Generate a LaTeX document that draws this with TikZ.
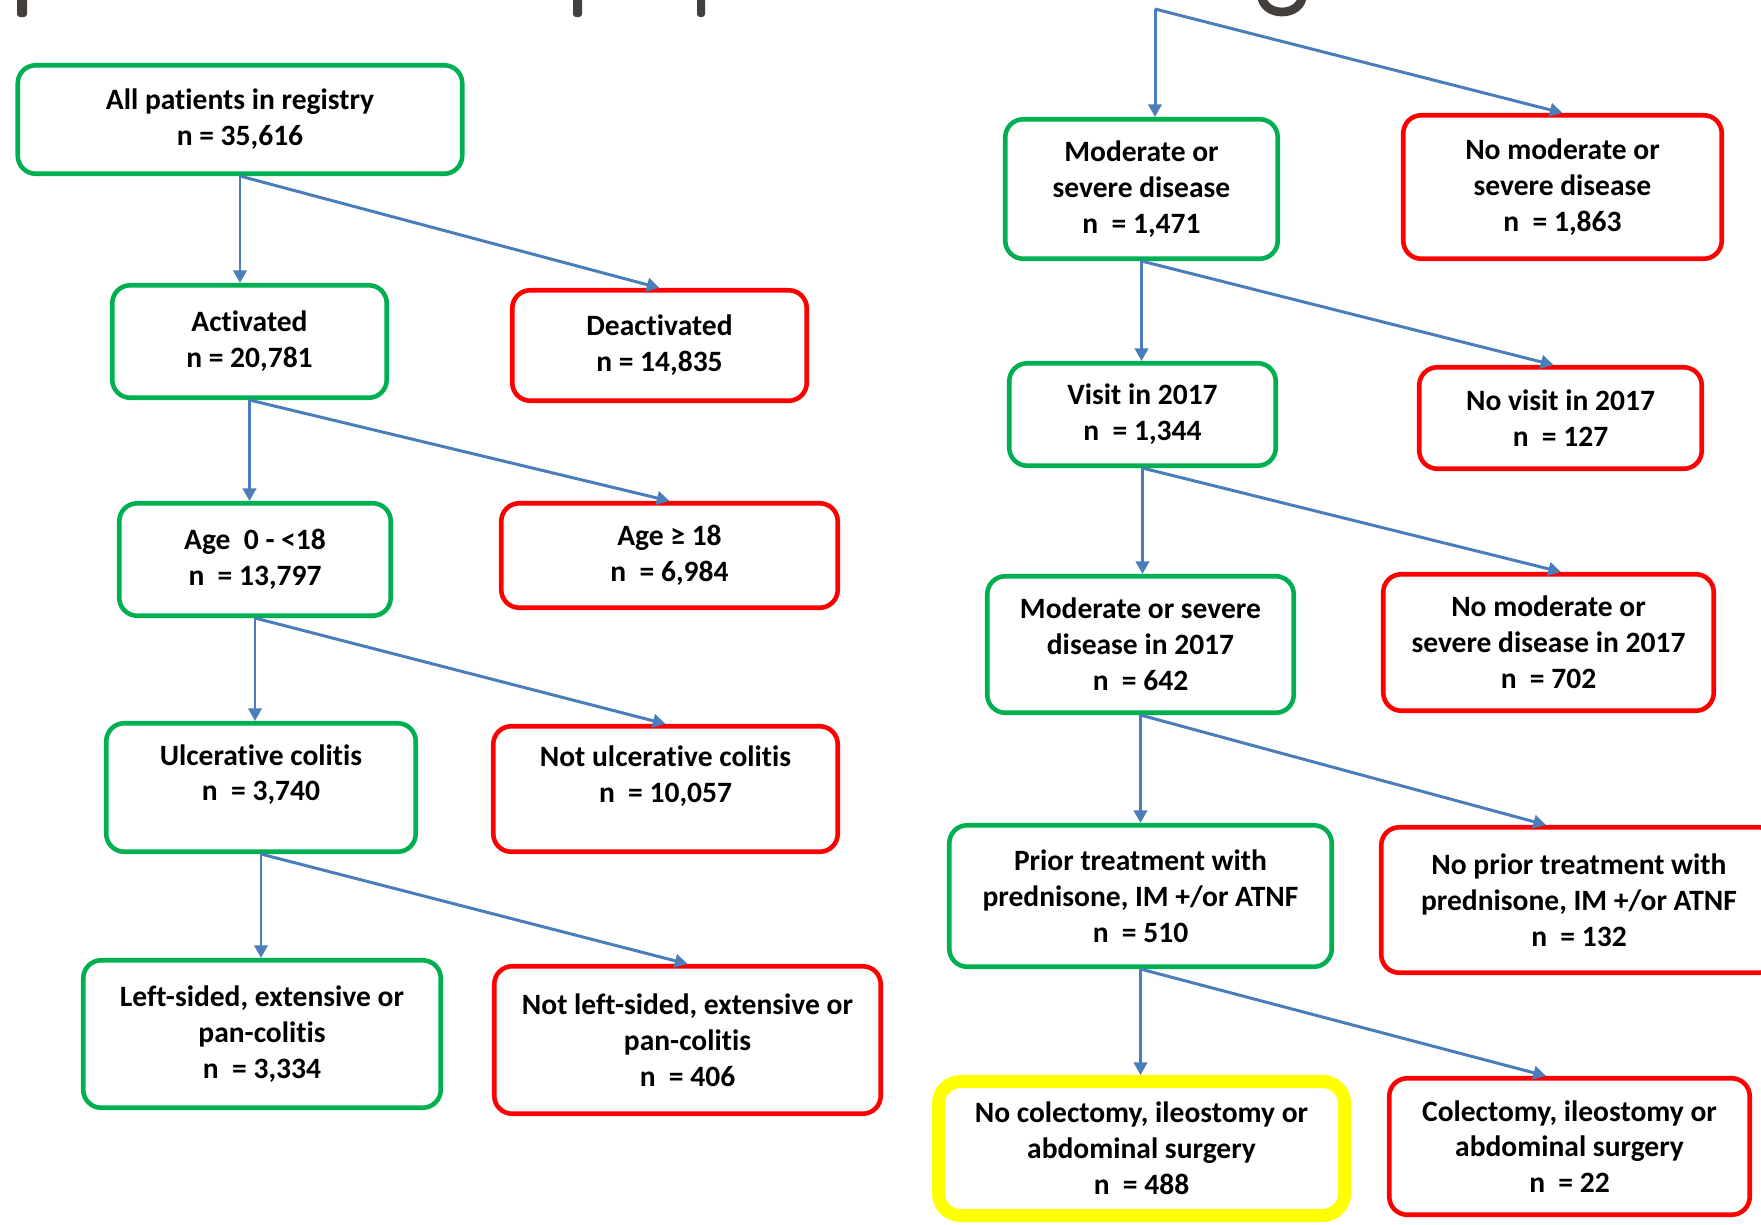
\documentclass[tikz,border=0pt]{standalone}
\usepackage{fontspec}
\setmainfont{Carlito}[Ligatures=NoCommon]
\usetikzlibrary{arrows.meta}
\definecolor{okgreen}{HTML}{00B050}
\definecolor{dropred}{HTML}{FF0000}
\definecolor{hilite}{HTML}{FFFF00}
\definecolor{flowblue}{HTML}{4A7EBB}
\definecolor{titlegrey}{HTML}{453F3C}

\begin{document}
\begin{tikzpicture}
[
x=0.1mm, y=-0.1mm,
>={Triangle[length=3.6pt,width=3.8pt]},
box/.style={rounded corners=1.8mm, line width=1.3pt, align=center, inner sep=0pt, font=\fontsize{8.4}{10.2}\selectfont\bfseries, draw},
keep/.style={box, draw=okgreen},
drop/.style={box, draw=dropred},
final/.style={box, draw=hilite, line width=3.7pt, rounded corners=2.2mm},
flow/.style={->, draw=flowblue, fill=flowblue, line width=0.85pt},
]
\useasboundingbox (0,0) rectangle (1761,1225);

% cut-off title
\fill [titlegrey, rounded corners=0.3mm] (17,-10) rectangle (27,17);
\fill [titlegrey, rounded corners=0.3mm] (573,-10) rectangle (582,17);
\fill [titlegrey, rounded corners=0.3mm] (697,-10) rectangle (705,17);
\draw [titlegrey, line width=2.5pt] (1261.5,-6) .. controls (1261.5,18) and (1302.5,18) .. (1302.5,-6);

% left tree
\node (allpat) [keep, minimum width=44.45mm, minimum height=10.85mm] at (240,119.5) {All patients in registry\\n = 35,616};
\node (activ) [keep, minimum width=27.45mm, minimum height=11.25mm] at (249.5,341.5) {Activated\\n = 20,781};
\node (deact) [drop, minimum width=29.45mm, minimum height=11.05mm] at (659.5,345.5) {Deactivated\\n = 14,835};
\node (age) [keep, minimum width=27.15mm, minimum height=11.25mm] at (255,559.5) {Age~ 0 - <18\\n~ = 13,797};
\node (adult) [drop, minimum width=33.65mm, minimum height=10.45mm] at (669.5,555.5) {Age ≥ 18\\n~ = 6,984};
\node (uc) [keep, minimum width=30.95mm, minimum height=12.85mm, text depth=8.5pt] at (261,787.5) {Ulcerative colitis\\n~ = 3,740};
\node (notuc) [drop, minimum width=34.45mm, minimum height=12.55mm, text depth=8.5pt] at (665.5,789) {Not ulcerative colitis\\n~ = 10,057};
\node (left) [keep, minimum width=35.75mm, minimum height=14.75mm] at (262,1034) {Left-sided, extensive or\\pan-colitis\\n~ = 3,334};
\node (notleft) [drop, minimum width=38.65mm, minimum height=14.75mm] at (687.5,1040) {Not left-sided, extensive or\\pan-colitis\\n~ = 406};

% right tree
\coordinate (split) at (1155,9);
\node (mod) [keep, minimum width=27.25mm, minimum height=13.95mm] at (1141.5,189) {Moderate or\\severe disease\\n~ = 1,471};
\node (nomod) [drop, minimum width=31.85mm, minimum height=14.35mm] at (1562.5,187) {No moderate or\\severe disease\\n~ = 1,863};
\node (visit) [keep, minimum width=26.65mm, minimum height=10.25mm] at (1142.5,414.5) {Visit in 2017\\n~ = 1,344};
\node (novisit) [drop, minimum width=28.25mm, minimum height=10.15mm] at (1560.5,418) {No visit in 2017\\n~ = 127};
\node (mod17) [keep, minimum width=30.65mm, minimum height=13.65mm] at (1140.5,644.5) {Moderate or severe\\disease in 2017\\n~ = 642};
\node (nomod17) [drop, minimum width=33.05mm, minimum height=13.65mm] at (1548.5,642.5) {No moderate or\\severe disease in 2017\\n~ = 702};
\node (prior) [keep, minimum width=38.25mm, minimum height=14.15mm] at (1140.5,896) {Prior treatment with\\prednisone, IM +/or ATNF\\n~ = 510};
\node (noprior) [drop, minimum width=39.55mm, minimum height=14.55mm] at (1579,900) {No prior treatment with\\prednisone, IM +/or ATNF\\n~ = 132};
\node (nocol) [final, minimum width=40.6mm, minimum height=13.4mm] at (1141.5,1148.5) {No colectomy, ileostomy or\\abdominal surgery\\n~ = 488};
\node (col) [drop, minimum width=36.05mm, minimum height=13.65mm] at (1569.5,1146.5) {Colectomy, ileostomy or\\abdominal surgery\\n~ = 22};

\draw [flow] (split) -- (split |- mod.north);
\draw [flow] (split) -- (nomod.north);
\foreach \s / \k / \d / \o in {allpat/activ/deact/0, activ/age/adult/0, age/uc/notuc/0, uc/left/notleft/0, mod/visit/novisit/-0.7, visit/mod17/nomod17/1.25, mod17/prior/noprior/-3.3, prior/nocol/col/-2.35}
{
\draw [flow] (\s.south) -- (\s.south |- \k.north);
\draw [flow] (\s.south) -- ([xshift=\o mm]\d.north);
}
\end{tikzpicture}
\end{document}
